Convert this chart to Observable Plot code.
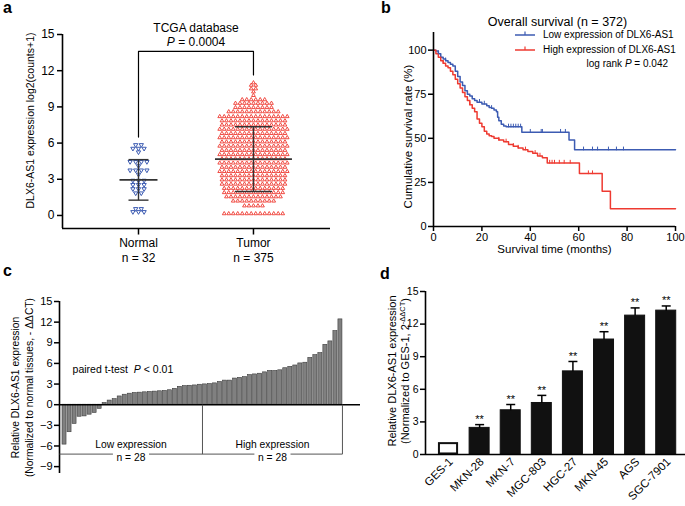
<!DOCTYPE html>
<html><head><meta charset="utf-8">
<script src="https://cdn.jsdelivr.net/npm/d3@7"></script>
<script src="https://cdn.jsdelivr.net/npm/@observablehq/plot@0.6"></script>
<style>
body{margin:0;background:#fff;}
#fig{position:relative;width:685px;height:506px;overflow:hidden;font-family:"Liberation Sans",Arial,Helvetica,sans-serif;background:#fff;color:#000;}
#fig .plab{position:absolute;font-weight:bold;font-size:16px;line-height:1;}
#fig svg g[aria-label^="y-axis"] line, #fig svg g[aria-label^="y-axis"] path,
#fig svg g[aria-label^="x-axis"] line, #fig svg g[aria-label^="x-axis"] path{stroke-width:1.5px;stroke:#000;}
</style></head><body><div id="fig"></div>
<script>
// ---------------- Panel a data ----------------
const aGroups = ["Normal", "Tumor"];
const aCounts = [32, 375];
const aMeans = [2.95, 4.67];
const aSDs = [1.68, 2.68];
// [value, number of samples in that row]
const aNormalRows = [[5.85,2],[5.55,3],[5.25,1],[4.45,4],[4.1,1],[3.75,4],[3.4,1],[2.9,3],[2.55,3],[2.2,3],[1.85,2],[0.55,2],[0.3,3]];
const aTumorRows = [[11.0,1],[10.8,2],[10.5,2],[10.25,1],[9.95,1],
  [9.6,6],[9.3,9],[8.95,9],[8.6,12],
  [8.2,16],[7.85,15],[7.5,15],[7.15,16],[6.8,15],[6.45,16],[6.1,15],[5.75,16],[5.4,15],[5.05,16],
  [4.7,15],[4.35,16],[4.0,15],[3.65,16],[3.3,15],[2.95,15],[2.6,15],[2.25,14],[1.9,14],[1.55,13],
  [1.2,10],[0.8,5],[0.15,14]];
const aTicks = [0,3,6,9,12,15];
const aTitle = "TCGA database";
const aPText = "P = 0.0004";
const aYLabel = "DLX6-AS1 expression log2(counts+1)";

// ---------------- Panel b data ----------------
const bTitle = "Overall survival (n = 372)";
const bSeries = ["Low expression of DLX6-AS1", "High expression of DLX6-AS1"];
const bLowCurve = [[0,100],[1,99.5],[2,98],[3,96],[4,95],[5,94],[6,93],[7,92],[8,91],[9,88],[10,85],[11,82],[12,80],[13,77],[14,75],[15,74],[16,72.5],[17,71.5],[18,70.5],[20,69.5],[22,68.5],[23,67.5],[24,67],[25,66],[26,65],[26.5,62],[27,60],[28,58],[29,57],[30,56.5],[36.5,53.5],[56,49],[58.3,43.5],[100,43.5]];
const bHighCurve = [[0,100],[1,98],[2,96],[3,94],[4,92.5],[5,91],[6,90],[7,88],[8,86],[9,83.5],[10,81],[11,78.5],[12,76],[13,73.5],[14,71.5],[15,69],[16,67],[17,65],[18,61],[19,58.5],[20,56.5],[21,54],[22,52.5],[23,51.5],[24,51],[25,50],[27,49],[29,48],[31,46.5],[33,45.5],[35,44.5],[37,43.5],[39,42.5],[41,41.5],[43,40],[45,39],[47,36],[60.3,30],[69.7,20],[73.1,10],[100,10]];
const bLowCensor = [2,5,19,21,24,31,32,33,34,35,36,40,44.5,45,52.5,54.5,62,65.7,67.8,72.3,75.6,78.5];
const bHighCensor = [4,15,27,30,33,35,38,42,44,48,49,50,52,54,56.5,64,65.7];
const bXTicks = [0,20,40,60,80,100];
const bYTicks = [0,25,50,75,100];
const bXLabel = "Survival time (months)";
const bYLabel = "Cumulative survival rate (%)";
const bLogRank = "log rank P = 0.042";

// ---------------- Panel c data ----------------
const cValues = [-5.8,-4.0,-2.8,-1.75,-1.7,-1.45,-1.2,-0.6,0.25,0.6,0.8,1.2,1.45,1.6,1.7,1.75,1.8,1.85,1.9,1.95,2.0,2.1,2.3,2.6,2.7,2.75,2.8,2.9,
  2.95,3.0,3.1,3.3,3.5,3.5,3.8,3.9,4.0,4.3,4.4,4.5,4.7,4.9,4.9,5.0,5.3,5.5,5.7,6.0,6.1,6.8,7.2,7.5,8.7,9.2,10.7,12.4];
const cGroups = ["Low expression", "High expression"];
const cGroupN = [28, 28];
const cTicks = [-9,-6,-3,0,3,6,9,12,15];
const cTest = "paired t-test  P < 0.01";
const cYLabel1 = "Relative DLX6-AS1 expression";
const cYLabel2 = "(Normalized to normal tissues, - ΔΔCT)";

// ---------------- Panel d data ----------------
const dCells = ["GES-1","MKN-28","MKN-7","MGC-803","HGC-27","MKN-45","AGS","SGC-7901"];
const dMeans = [1.0, 2.45, 4.07, 4.74, 7.65, 10.58, 12.78, 13.24];
const dErrs = [0, 0.3, 0.53, 0.7, 0.91, 0.72, 0.71, 0.43];
const dSig = ["", "**", "**", "**", "**", "**", "**", "**"];
const dTicks = [0,3,6,9,12,15];
const dYLabel1 = "Relative DLX6-AS1 expression";
const dYLabel2 = "(Normalized to GES-1, 2-ΔΔCT)";

// ---------------- helpers ----------------
const FONT = "'Liberation Sans', Arial, Helvetica, sans-serif";
const BLUE = "#3c5bb2", RED = "#ee3a31";
const fig = document.getElementById("fig");
const baseStyle = fs => ({fontFamily: FONT, fontSize: fs, color: "#000", background: "transparent", overflow: "visible"});
function place(el, left, top) { el.style.position = "absolute"; el.style.left = left + "px"; el.style.top = top + "px"; fig.appendChild(el); }
const NS = "http://www.w3.org/2000/svg";
function italicP(svg) {
  svg.querySelectorAll("text").forEach(t => {
    if (t.querySelector("tspan")) return;
    const m = t.textContent.match(/^(.*?)\bP\b(.*)$/);
    if (!m) return;
    t.textContent = "";
    t.appendChild(document.createTextNode(m[1]));
    const ts = document.createElementNS(NS, "tspan"); ts.setAttribute("font-style", "italic"); ts.textContent = "P";
    t.appendChild(ts);
    t.appendChild(document.createTextNode(m[2]));
  });
}
function superscript(svg, base, sup) {
  svg.querySelectorAll("text").forEach(t => {
    const s = t.textContent; const k = s.indexOf(base + sup);
    if (k < 0) return;
    t.textContent = "";
    t.appendChild(document.createTextNode(s.slice(0, k + base.length)));
    const a = document.createElementNS(NS, "tspan"); a.setAttribute("dy", "-4"); a.setAttribute("font-size", "7.5"); a.textContent = sup;
    const b = document.createElementNS(NS, "tspan"); b.setAttribute("dy", "4"); b.textContent = s.slice(k + base.length + sup.length);
    t.appendChild(a); t.appendChild(b);
  });
}
const triDown = {draw(ctx, size) { const y = -Math.sqrt(size / (Math.sqrt(3) * 3)); ctx.moveTo(0, -y * 2); ctx.lineTo(-Math.sqrt(3) * y, y); ctx.lineTo(Math.sqrt(3) * y, y); ctx.closePath(); }};

// ---------------- Panel a ----------------
const aPts = [];
[aNormalRows, aTumorRows].forEach((rows, g) => rows.forEach(([v, n]) => { for (let j = 0; j < n; j++) aPts.push({g, v, k: j - (n - 1) / 2}); }));
const aPx = 115, aSp = [5.6, 4.5], aMeanHalf = [19, 38.5], aCapHalf = [10, 18.5];
const aX = [-0.661, 1.670], aY = [-1.08, 15];
const aNormMax = d3.max(aNormalRows, r => r[0]), aTumMax = d3.max(aTumorRows, r => r[0]);
const aBrTop = 13.6;
const aBracket = [{x: 0, y: aNormMax + 0.65}, {x: 0, y: aBrTop}, {x: 1, y: aBrTop}, {x: 1, y: aTumMax + 0.65}];
const pa = Plot.plot({
  width: 345, height: 260, marginLeft: 62, marginRight: 15, marginTop: 34, marginBottom: 32,
  style: baseStyle("12px"),
  x: {domain: aX, axis: null},
  y: {domain: aY, ticks: aTicks, tickSize: 5, tickPadding: 3, label: null},
  marks: [
    Plot.dot(aPts.filter(d => d.g === 0), {x: d => d.g + d.k * aSp[0] / aPx, y: "v", symbol: triDown, r: 1.6, stroke: BLUE, strokeWidth: 1, fill: "white"}),
    Plot.dot(aPts.filter(d => d.g === 1), {x: d => d.g + d.k * aSp[1] / aPx, y: "v", symbol: "triangle", r: 1.4, stroke: RED, strokeWidth: 0.9, fill: "white"}),
    Plot.link([0, 1], {x1: i => i - aMeanHalf[i] / aPx, x2: i => i + aMeanHalf[i] / aPx, y1: i => aMeans[i], y2: i => aMeans[i], stroke: "#333", strokeWidth: 1.6}),
    Plot.link([0, 1], {x1: i => i, x2: i => i, y1: i => aMeans[i] - aSDs[i], y2: i => aMeans[i] + aSDs[i], stroke: "#333", strokeWidth: 1.4}),
    Plot.link([0, 1], {x1: i => i - aCapHalf[i] / aPx, x2: i => i + aCapHalf[i] / aPx, y1: i => aMeans[i] + aSDs[i], y2: i => aMeans[i] + aSDs[i], stroke: "#333", strokeWidth: 1.4}),
    Plot.link([0, 1], {x1: i => i - aCapHalf[i] / aPx, x2: i => i + aCapHalf[i] / aPx, y1: i => aMeans[i] - aSDs[i], y2: i => aMeans[i] - aSDs[i], stroke: "#333", strokeWidth: 1.4}),
    Plot.ruleX([aX[0]], {strokeWidth: 1.6}),
    Plot.ruleY([aY[0]], {strokeWidth: 1.6}),
    Plot.link([0, 1], {x1: i => i, x2: i => i, y1: aY[0], y2: aY[0] - 0.5, strokeWidth: 1.5}),
    Plot.text([0, 1], {x: i => i, text: i => aGroups[i] + "\nn = " + aCounts[i], frameAnchor: "bottom", lineAnchor: "top", dy: 8, fontSize: 12, lineHeight: 1.25}),
    Plot.line(aBracket, {x: "x", y: "y", strokeWidth: 1.2}),
    Plot.text([aTitle], {x: 0.5, y: 15.5, fontSize: 12}),
    Plot.text([aPText], {x: 0.5, y: 14.33, fontSize: 12}),
    Plot.text([aYLabel], {frameAnchor: "left", textAnchor: "middle", rotate: -90, dx: -32, dy: -11, fontSize: 10.5})
  ]
});
italicP(pa);
place(pa, 0, 0);

// ---------------- Panel b ----------------
const survAt = (c, t) => { let s = c[0][1]; for (const [tt, ss] of c) if (tt <= t) s = ss; return s; };
const pb = Plot.plot({
  width: 340, height: 260, marginLeft: 88, marginRight: 10, marginTop: 32, marginBottom: 34,
  style: baseStyle("11px"),
  x: {domain: [0, 100], ticks: bXTicks, tickSize: 5, tickPadding: 2, label: null},
  y: {domain: [0, 110], ticks: bYTicks, tickSize: 5, tickPadding: 2, label: null},
  marks: [
    Plot.line(bLowCurve, {x: d => d[0], y: d => d[1], curve: "step-after", stroke: BLUE, strokeWidth: 1.5}),
    Plot.line(bHighCurve, {x: d => d[0], y: d => d[1], curve: "step-after", stroke: RED, strokeWidth: 1.5}),
    Plot.link(bLowCensor, {x1: t => t, x2: t => t, y1: t => survAt(bLowCurve, t) - 0.3, y2: t => survAt(bLowCurve, t) + 1.8, stroke: BLUE, strokeWidth: 1}),
    Plot.link(bHighCensor, {x1: t => t, x2: t => t, y1: t => survAt(bHighCurve, t) - 0.3, y2: t => survAt(bHighCurve, t) + 1.8, stroke: RED, strokeWidth: 1}),
    Plot.ruleX([0], {strokeWidth: 1.6}),
    Plot.ruleY([0], {strokeWidth: 1.6}),
    Plot.text([bTitle], {frameAnchor: "top", textAnchor: "middle", lineAnchor: "middle", dx: 3, dy: -10.5, fontSize: 12.5}),
    Plot.text([bXLabel], {frameAnchor: "bottom", textAnchor: "middle", lineAnchor: "middle", dy: 22.5, fontSize: 11.5}),
    Plot.text([bYLabel], {frameAnchor: "left", textAnchor: "middle", rotate: -90, dx: -25, dy: 7, fontSize: 11.5})
  ]
});
place(pb, 345, 0);
// legend
const bColors = [BLUE, RED];
const lg = document.createElement("div");
lg.style.cssText = "font-size:10px;line-height:15px;";
bSeries.forEach((name, i) => {
  const row = document.createElement("div");
  row.style.cssText = "display:flex;align-items:center;height:15px;white-space:nowrap;";
  row.innerHTML = `<svg width="22" height="10" style="margin-right:6px;display:block"><line x1="0" x2="20" y1="5" y2="5" stroke="${bColors[i]}" stroke-width="1.5"/><line x1="10" x2="10" y1="1.5" y2="5" stroke="${bColors[i]}" stroke-width="1.2"/></svg><span>${name}</span>`;
  lg.appendChild(row);
});
place(lg, 515, 27);
const lr = document.createElement("div");
lr.style.cssText = "font-size:10px;line-height:14px;white-space:nowrap;text-align:right;width:160px;";
lr.innerHTML = bLogRank.replace(/\bP\b/, "<i>P</i>");
place(lr, 668 - 160, 57);

// ---------------- Panel c ----------------
const cData = cValues.map((v, i) => ({i: i + 1, v}));
const cLowN = cGroupN[0], cTot = cGroupN[0] + cGroupN[1];
const cDiv = cLowN + 0.5, cEnd = cTot + 0.4, cBrY = -7.18;
const cCenters = [cDiv / 2, (cDiv + cEnd) / 2];
const cGap = 3.6;
const cSegs = [[0, cCenters[0] - cGap], [cCenters[0] + cGap, cCenters[1] - cGap], [cCenters[1] + cGap, cEnd]];
const pc = Plot.plot({
  width: 365, height: 246, marginLeft: 59, marginRight: 5, marginTop: 41, marginBottom: 33,
  style: baseStyle("11px"),
  x: {domain: [0, 60], axis: null},
  y: {domain: [-10, 15], ticks: cTicks, tickSize: 5, tickPadding: 2, label: null},
  marks: [
    Plot.rectY(cData, {x1: d => d.i - 0.4, x2: d => d.i + 0.4, y1: 0, y2: "v", fill: "#808080", stroke: "#3a3a3a", strokeWidth: 0.6}),
    Plot.ruleY([0], {strokeWidth: 1.5}),
    Plot.ruleX([0], {strokeWidth: 1.6}),
    Plot.link([cDiv, cEnd], {x1: d => d, x2: d => d, y1: 0, y2: cBrY, stroke: "#555", strokeWidth: 1}),
    Plot.link(cSegs, {x1: d => d[0], x2: d => d[1], y1: cBrY, y2: cBrY, stroke: "#555", strokeWidth: 1}),
    Plot.text(cGroups, {x: (d, i) => cCenters[i], y: -5.87, fontSize: 10.3}),
    Plot.text(cGroupN, {x: (d, i) => cCenters[i], y: -7.77, text: n => "n = " + n, fontSize: 10.3}),
    Plot.text([cTest], {x: 2.6, y: 5.05, textAnchor: "start", fontSize: 10.5}),
    Plot.text([cYLabel1], {frameAnchor: "left", textAnchor: "middle", rotate: -90, dx: -44, fontSize: 10.3}),
    Plot.text([cYLabel2], {frameAnchor: "left", textAnchor: "middle", rotate: -90, dx: -30, fontSize: 10.3})
  ]
});
italicP(pc);
place(pc, 0, 260);

// ---------------- Panel d ----------------
const dData = dCells.map((name, i) => ({i, name, m: dMeans[i], e: dErrs[i], s: dSig[i]}));
const dX = [-0.74, 7.62], dPx = 31.1, dHalf = 10 / dPx, dCap = 4.5 / dPx;
const pd = Plot.plot({
  width: 320, height: 246, marginLeft: 60, marginRight: 0, marginTop: 31, marginBottom: 52,
  style: baseStyle("10.5px"),
  x: {domain: dX, axis: null},
  y: {domain: [0, 15], ticks: dTicks, tickSize: 5, tickPadding: 2, label: null},
  marks: [
    Plot.rectY(dData.filter(d => d.i > 0), {x1: d => d.i - dHalf, x2: d => d.i + dHalf, y1: 0, y2: "m", fill: "#111", stroke: "#111", strokeWidth: 1}),
    Plot.rectY(dData.filter(d => d.i === 0), {x1: d => d.i - dHalf + 0.03, x2: d => d.i + dHalf - 0.03, y1: 0.05, y2: "m", fill: "white", stroke: "#111", strokeWidth: 2}),
    Plot.link(dData.filter(d => d.e > 0), {x1: "i", x2: "i", y1: "m", y2: d => d.m + d.e, strokeWidth: 1.5}),
    Plot.link(dData.filter(d => d.e > 0), {x1: d => d.i - dCap, x2: d => d.i + dCap, y1: d => d.m + d.e, y2: d => d.m + d.e, strokeWidth: 1.5}),
    Plot.text(dData.filter(d => d.s), {x: "i", y: d => d.m + d.e, text: "s", dy: -5, fontSize: 11, fill: "#000"}),
    Plot.ruleX([dX[0]], {strokeWidth: 1.6}),
    Plot.ruleY([0], {strokeWidth: 1.6}),
    Plot.text(dData, {x: "i", text: "name", frameAnchor: "bottom", rotate: -45, textAnchor: "end", dx: 5, dy: 8, fontSize: 11.5}),
    Plot.text([dYLabel1], {frameAnchor: "left", textAnchor: "middle", rotate: -90, dx: -33, dy: -2, fontSize: 11}),
    Plot.text([dYLabel2], {frameAnchor: "left", textAnchor: "middle", rotate: -90, dx: -20, dy: -2, fontSize: 11})
  ]
});
superscript(pd, "2", "-ΔΔCT");
place(pd, 365, 260);

// panel letters
[["a", 3, 0], ["b", 381, 0], ["c", 3, 263], ["d", 380, 266]].forEach(([t, x, y]) => {
  const s = document.createElement("div"); s.className = "plab"; s.textContent = t; place(s, x, y);
});
</script></body></html>
